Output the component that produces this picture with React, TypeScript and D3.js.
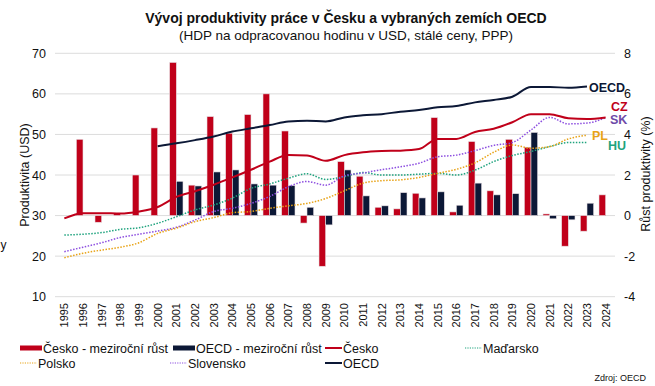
import * as d3 from "d3";

const years = [
  "1995", "1996", "1997", "1998", "1999", "2000", "2001", "2002", "2003", "2004",
  "2005", "2006", "2007", "2008", "2009", "2010", "2011", "2012", "2013", "2014",
  "2015", "2016", "2017", "2018", "2019", "2020", "2021", "2022", "2023", "2024",
];

// meziroční růst (%), pravá osa
const czGrowth = [
  null, 3.76, -0.33, 0.1, 2.0, 4.32, 7.55, 1.5, 4.88, 4.06,
  4.98, 6.0, 4.17, -0.37, -2.5, 2.66, 1.94, 0.41, 0.33, 1.1,
  4.83, 0.18, 3.65, 1.22, 3.76, 3.37, 0.08, -1.51, -0.77, 1.02,
];
const oecdGrowth = [
  null, null, null, null, null, null, 1.69, 1.46, 2.15, 2.25,
  1.56, 1.5, 1.48, 0.41, -0.46, 2.25, 0.97, 0.48, 1.13, 0.87,
  1.17, 0.51, 1.6, 1.02, 1.08, 4.1, -0.16, -0.21, 0.61, null,
];

// produktivita (USD), levá osa
const czLevel = [
  29.3, 30.6, 30.6, 30.5, 31.0, 32.1, 34.6, 36.0, 37.6, 39.4,
  41.3, 43.3, 44.9, 44.8, 43.5, 44.9, 45.6, 45.9, 46.0, 46.4,
  48.9, 48.9, 50.6, 51.4, 53.0, 55.0, 55.0, 54.0, 53.8, 54.2,
];
const oecdLevel = [
  null, null, null, null, null, 47.1, 47.8, 48.6, 49.5, 50.7,
  51.5, 52.3, 53.2, 53.4, 53.2, 54.2, 54.7, 55.0, 55.6, 56.0,
  56.7, 57.0, 57.9, 58.5, 59.3, 61.7, 61.7, 61.5, 61.8, null,
];
const huLevel = [
  25.2, 25.4, 25.8, 26.6, 27.0, 28.1, 29.7, 31.4, 32.6, 34.3,
  36.7, 37.8, 39.2, 40.3, 38.9, 39.6, 40.6, 40.0, 40.0, 40.2,
  40.4, 40.0, 41.2, 43.3, 44.8, 45.8, 47.0, 48.0, 48.0, null,
];
const skLevel = [
  21.1, 22.2, 23.3, 24.6, 25.4, 26.2, 27.1, 28.9, 31.0, 31.8,
  33.0, 34.7, 37.1, 38.4, 37.5, 39.8, 40.5, 41.3, 42.0, 42.9,
  44.5, 44.9, 46.0, 47.3, 48.0, 51.1, 54.2, 52.6, 52.8, 54.1,
];
const plLevel = [
  19.6, 20.7, 21.5, 22.2, 23.3, 25.6, 26.9, 28.5, 29.5, 30.7,
  31.0, 31.8, 32.4, 33.0, 34.2, 36.1, 38.0, 38.6, 38.8, 39.4,
  40.4, 41.4, 43.0, 45.6, 47.4, 46.6, 47.0, 48.9, 49.8, null,
];

const leftTicks = [10, 20, 30, 40, 50, 60, 70];
const rightTicks = [-4, -2, 0, 2, 4, 6, 8];

const RED = "#c0001a";
const NAVY = "#0c1836";
const TEAL = "#1fa37e";
const PURPLE = "#8d4fe0";
const ORANGE = "#e8a317";

const W = 655;
const H = 386;
const FONT = "'Liberation Sans', Arial, sans-serif";

export default function App() {
  const x = d3.scaleBand<string>().domain(years).range([55, 615]).padding(0);
  const yL = d3.scaleLinear().domain([10, 70]).range([296.7, 53.3]);
  const yR = d3.scaleLinear().domain([-4, 8]).range([296.7, 53.3]);
  const inner = d3
    .scaleBand<string>()
    .domain(["cz", "oecd"])
    .range([0, x.bandwidth()])
    .paddingInner(0)
    .paddingOuter(0.4);
  const cx = (i: number) => (x(years[i]) ?? 0) + x.bandwidth() / 2;

  const makeLine = (vals: (number | null)[]) =>
    d3
      .line<number | null>()
      .defined((d) => d != null)
      .x((_, i) => cx(i))
      .y((d) => yL(d as number))
      .curve(d3.curveMonotoneX)(vals) || "";

  const bars = (vals: (number | null)[], key: string, color: string) =>
    vals.map((v, i) =>
      v == null ? null : (
        <rect
          key={key + i}
          x={(x(years[i]) ?? 0) + (inner(key) ?? 0)}
          y={yR(Math.max(0, v))}
          width={inner.bandwidth()}
          height={Math.abs(yR(v) - yR(0))}
          fill={color}
          stroke="#e8e0e4"
          strokeWidth={0.6}
        />
      )
    );

  // popisky na konci čar
  const endLabels = [
    { text: "OECD", x: 589, y: 92, color: NAVY },
    { text: "CZ", x: 611, y: 111, color: RED },
    { text: "SK", x: 610, y: 124, color: "#6e4aa8" },
    { text: "PL", x: 592, y: 140, color: ORANGE },
    { text: "HU", x: 608, y: 150, color: TEAL },
  ];

  const legend = [
    { label: "Česko - meziroční růst", type: "bar", color: RED, x: 20, y: 348 },
    { label: "OECD - meziroční růst", type: "bar", color: NAVY, x: 173, y: 348 },
    { label: "Česko", type: "line", color: RED, x: 325, y: 348 },
    { label: "Maďarsko", type: "dot", color: TEAL, x: 465, y: 348 },
    { label: "Polsko", type: "dot", color: ORANGE, x: 20, y: 363 },
    { label: "Slovensko", type: "dot", color: PURPLE, x: 170, y: 363 },
    { label: "OECD", type: "line", color: NAVY, x: 325, y: 363 },
  ];

  return (
    <svg width={W} height={H} style={{ position: "absolute", left: 0, top: 0, background: "#fff" }} fontFamily={FONT}>
      <rect width={W} height={H} fill="#fff" />
      <text x={346} y={23} textAnchor="middle" fontSize={14} fontWeight="bold" fill="#111">
        Vývoj produktivity práce v Česku a vybraných zemích OECD
      </text>
      <text x={346} y={40} textAnchor="middle" fontSize={13.5} fill="#111">
        (HDP na odpracovanou hodinu v USD, stálé ceny, PPP)
      </text>

      {leftTicks.map((t) => (
        <g key={"g" + t}>
          <line x1={55} x2={615} y1={yL(t)} y2={yL(t)} stroke="#dcdcdc" strokeWidth={1} />
          <text x={46} y={yL(t) + 4.5} textAnchor="end" fontSize={12.5} fill="#111">
            {t}
          </text>
        </g>
      ))}
      {rightTicks.map((t) => (
        <text key={"r" + t} x={624} y={yR(t) + 4.5} fontSize={12.5} fill="#111">
          {t}
        </text>
      ))}

      <text transform="translate(29,175) rotate(-90)" textAnchor="middle" fontSize={12.5} fill="#111">
        Produktivita (USD)
      </text>
      <text transform="translate(650,174) rotate(-90)" textAnchor="middle" fontSize={12.5} fill="#111">
        Růst produktivity (%)
      </text>
      <text x={0.5} y={249} fontSize={12} fill="#111">
        y
      </text>

      {bars(czGrowth, "cz", RED)}
      {bars(oecdGrowth, "oecd", NAVY)}

      <path d={makeLine(huLevel)} fill="none" stroke={TEAL} strokeWidth={1.5} strokeDasharray="1.5 1.5" />
      <path d={makeLine(skLevel)} fill="none" stroke={PURPLE} strokeWidth={1.5} strokeDasharray="1.5 1.5" />
      <path d={makeLine(plLevel)} fill="none" stroke={ORANGE} strokeWidth={1.5} strokeDasharray="1.5 1.5" />
      <path d={makeLine(czLevel)} fill="none" stroke={RED} strokeWidth={2} />
      <path d={makeLine(oecdLevel)} fill="none" stroke={NAVY} strokeWidth={2} />

      {endLabels.map((l) => (
        <text key={l.text} x={l.x} y={l.y} fontSize={12.5} fontWeight="bold" fill={l.color}>
          {l.text}
        </text>
      ))}

      {years.map((yr, i) => (
        <text
          key={yr}
          transform={`translate(${cx(i) + 4},303) rotate(-90)`}
          textAnchor="end"
          fontSize={11}
          fill="#111"
        >
          {yr}
        </text>
      ))}

      {legend.map((l) => (
        <g key={l.label + l.y}>
          {l.type === "bar" ? (
            <rect x={l.x} y={l.y - 2.5} width={22} height={5} fill={l.color} />
          ) : (
            <line
              x1={l.x}
              x2={l.x + 17}
              y1={l.y}
              y2={l.y}
              stroke={l.color}
              strokeWidth={l.type === "line" ? 2 : 1.2}
              strokeDasharray={l.type === "dot" ? "1.2 1.2" : undefined}
            />
          )}
          <text x={l.x + (l.type === "bar" ? 23 : 18)} y={l.y + 4.5} fontSize={12.5} fill="#111">
            {l.label}
          </text>
        </g>
      ))}

      <text x={646} y={381} textAnchor="end" fontSize={9} fill="#111">
        Zdroj: OECD
      </text>
    </svg>
  );
}
